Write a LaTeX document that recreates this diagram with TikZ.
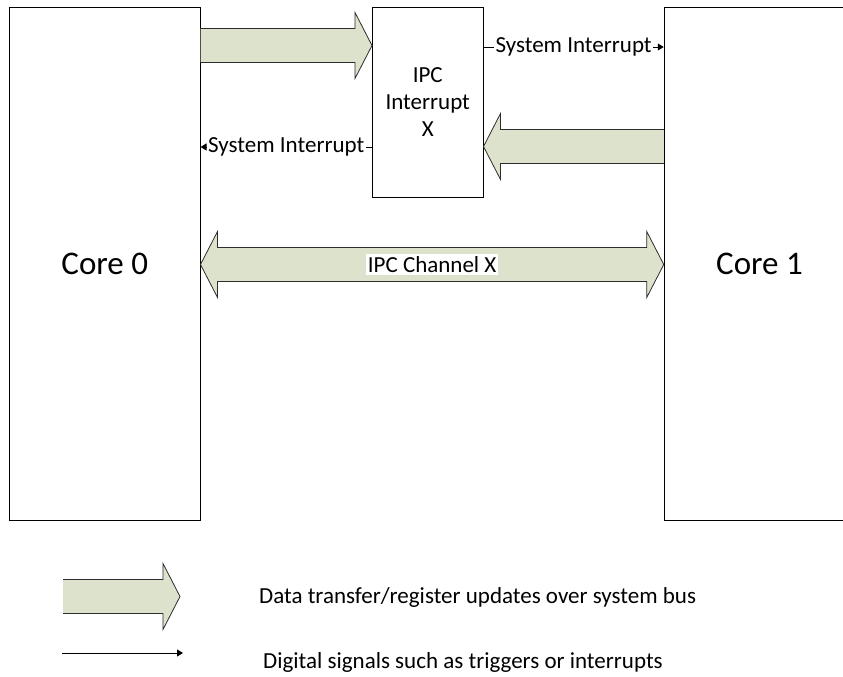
\documentclass[tikz,border=0pt]{standalone}
\usepackage{fontspec}
\setmainfont{Carlito}
\usetikzlibrary{calc,arrows.meta}
\definecolor{busgreen}{RGB}{221,226,204}
\definecolor{edgegray}{RGB}{45,45,45}
\tikzset{
  corebox/.style={draw=black,line width=1pt,minimum width=190.5pt,minimum height=512pt,inner sep=0pt,font=\fontsize{33}{40}\selectfont},
  ipcbox/.style={draw=black,line width=1pt,minimum width=110.5pt,minimum height=189pt,align=center,font=\fontsize{23}{27}\selectfont},
  busfill/.style={fill=busgreen},
  busline/.style={draw=edgegray,line width=0.8pt,line join=miter},
  sig/.style={line width=0.9pt,-{Triangle[length=6pt,width=7pt]}},
  lbl/.style={fill=white,inner xsep=1.5pt,inner ysep=2pt,font=\fontsize{23}{27}\selectfont},
  legtext/.style={anchor=west,inner sep=0pt,font=\fontsize{23}{27}\selectfont}
}
% one-way bus arrow: tail, tip, offset of head base from tip
\newcommand{\busarrow}[3]{%
  \fill[busfill] ($(#1)+(0,-\bw)$) -- ($(#2)+(#3,-\bw)$) -- ($(#2)+(#3,-\hw)$) -- (#2)
    -- ($(#2)+(#3,\hw)$) -- ($(#2)+(#3,\bw)$) -- ($(#1)+(0,\bw)$) -- cycle;
  \draw[busline] ($(#1)+(0,-\bw)$) -- ($(#2)+(#3,-\bw)$) -- ($(#2)+(#3,-\hw)$) -- (#2)
    -- ($(#2)+(#3,\hw)$) -- ($(#2)+(#3,\bw)$) -- ($(#1)+(0,\bw)$);
}
\begin{document}
\begin{tikzpicture}[x=1pt,y=-1pt]
  \def\bw{17}
  \def\hw{33}
  \def\hl{17}
  \useasboundingbox (0,0) rectangle (843,677);

  % cores and the interrupt block
  \node[corebox] (core0) at (104.75,264) {Core 0};
  \node[corebox] (core1) at (759.5,264) {Core 1};
  \node[ipcbox] (ipc) at (427.75,102.5) {IPC\\Interrupt\\X};

  % bus transfers
  \coordinate (y1) at (0,45.5);
  \coordinate (y2) at (0,146.5);
  \coordinate (y3) at (0,264.5);
  \coordinate (s1) at (0,47);
  \coordinate (s2) at (0,147);
  \coordinate (a0) at (core0.east |- y1);
  \coordinate (a1) at (ipc.west |- y1);
  \coordinate (b0) at (core1.west |- y2);
  \coordinate (b1) at (ipc.east |- y2);
  \busarrow{a0}{a1}{-\hl}
  \busarrow{b0}{b1}{\hl}

  % IPC channel
  \coordinate (ch0) at (core0.east |- y3);
  \coordinate (ch1) at (core1.west |- y3);
  \filldraw[busfill,busline] (ch0) -- ($(ch0)+(\hl,-\hw)$) -- ($(ch0)+(\hl,-\bw)$)
    -- ($(ch1)+(-\hl,-\bw)$) -- ($(ch1)+(-\hl,-\hw)$) -- (ch1)
    -- ($(ch1)+(-\hl,\hw)$) -- ($(ch1)+(-\hl,\bw)$) -- ($(ch0)+(\hl,\bw)$)
    -- ($(ch0)+(\hl,\hw)$) -- cycle;
  \node[lbl] (chlbl) at ($(ch0)!0.5!(ch1)$) {IPC Channel X};

  % interrupt signals
  \draw[sig] (ipc.east |- s1) -- node[lbl] (int1) {System Interrupt} (core1.west |- s1);
  \draw[sig] (ipc.west |- s2) -- node[lbl] (int0) {System Interrupt} (core0.east |- s2);

  % legend
  \coordinate (lg0) at (63,596.5);
  \coordinate (lg1) at (180,596.5);
  \busarrow{lg0}{lg1}{-\hl}
  \node[legtext] (legbus) at (259,597) {Data transfer/register updates over system bus};
  \coordinate (ls0) at (62,653);
  \coordinate (ls1) at (183,653);
  \draw[sig] (ls0) -- (ls1);
  \node[legtext] (legsig) at (263,662) {Digital signals such as triggers or interrupts};
\end{tikzpicture}
\end{document}
